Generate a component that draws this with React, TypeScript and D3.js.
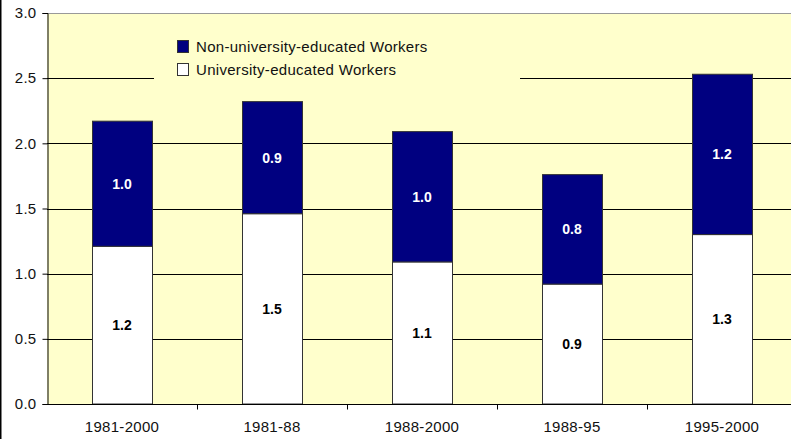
import { useEffect, useRef } from 'react';
import * as d3 from 'd3';

const periods = ['1981-2000', '1981-88', '1988-2000', '1988-95', '1995-2000'];
const universityEducated = [1.21, 1.46, 1.09, 0.92, 1.3];
const nonUniversityEducated = [0.96, 0.86, 1.0, 0.84, 1.23];
const yTicks = [0, 0.5, 1, 1.5, 2, 2.5, 3];
const seriesNames = ['Non-university-educated Workers', 'University-educated Workers'];

const W = 791;
const H = 439;

export default function App() {
  const ref = useRef<SVGSVGElement>(null);

  useEffect(() => {
    const svg = d3.select(ref.current);
    svg.selectAll('*').remove();

    const margin = { left: 47, top: 13, bottom: 404 };
    const x = d3.scaleBand().domain(periods).range([margin.left, margin.left + 750]);
    const y = d3.scaleLinear().domain([0, 3]).range([margin.bottom, margin.top]);
    const font = 'Arial, "Liberation Sans", sans-serif';
    const ls = '0.3px';

    // outer frame line on the left
    svg.append('line').attr('x1', 0.5).attr('x2', 0.5).attr('y1', 0).attr('y2', H)
      .attr('stroke', '#000').attr('stroke-width', 2);

    // plot area
    svg.append('rect')
      .attr('x', margin.left).attr('y', margin.top)
      .attr('width', 760).attr('height', margin.bottom - margin.top)
      .attr('fill', '#FFFFCC');
    svg.append('line').attr('x1', margin.left).attr('x2', W).attr('y1', margin.top + 0.5).attr('y2', margin.top + 0.5)
      .attr('stroke', '#999').attr('stroke-width', 1);

    // gridlines
    svg.append('g').selectAll('line').data(yTicks.filter(d => d > 0 && d < 3)).enter().append('line')
      .attr('x1', margin.left).attr('x2', W)
      .attr('y1', d => Math.round(y(d)) + 0.5).attr('y2', d => Math.round(y(d)) + 0.5)
      .attr('stroke', '#000').attr('stroke-width', 1);

    // legend box hides the grid behind it
    svg.append('rect').attr('x', 154).attr('y', 28).attr('width', 366).attr('height', 56).attr('fill', '#FFFFCC');
    const legend = svg.append('g');
    const legendColors = ['#000080', '#FFFFFF'];
    seriesNames.forEach((name, i) => {
      const ly = 40 + i * 23;
      legend.append('rect').attr('x', 177.5).attr('y', ly + 0.5).attr('width', 11).attr('height', 12)
        .attr('fill', legendColors[i]).attr('stroke', '#333').attr('stroke-width', 1);
      legend.append('text').attr('x', 196).attr('y', ly + 12)
        .attr('font-family', font).attr('font-size', 15).attr('letter-spacing', ls)
        .attr('fill', '#111').text(name);
    });

    // bars
    const bw = 60;
    const bars = svg.append('g');
    periods.forEach((p, i) => {
      const cx = (x(p) as number) + x.bandwidth() / 2;
      const u = universityEducated[i];
      const n = nonUniversityEducated[i];
      bars.append('rect')
        .attr('x', Math.round(cx - bw / 2) + 0.5).attr('y', y(u))
        .attr('width', bw).attr('height', y(0) - y(u))
        .attr('fill', '#fff').attr('stroke', '#333').attr('stroke-width', 1);
      bars.append('rect')
        .attr('x', Math.round(cx - bw / 2) + 0.5).attr('y', y(u + n))
        .attr('width', bw).attr('height', y(u) - y(u + n))
        .attr('fill', '#000080').attr('stroke', '#333').attr('stroke-width', 1);
      bars.append('text').attr('x', cx).attr('y', (y(0) + y(u)) / 2).attr('dy', '0.35em')
        .attr('text-anchor', 'middle').attr('font-family', font).attr('font-size', 14).attr('font-weight', 'bold')
        .attr('fill', '#000').text(u.toFixed(1));
      bars.append('text').attr('x', cx).attr('y', (y(u) + y(u + n)) / 2).attr('dy', '0.35em')
        .attr('text-anchor', 'middle').attr('font-family', font).attr('font-size', 14).attr('font-weight', 'bold')
        .attr('fill', '#fff').text(n.toFixed(1));
    });

    // y axis
    const yAxis = svg.append('g').attr('transform', `translate(${margin.left + 0.5},0)`)
      .call(d3.axisLeft(y).tickValues(yTicks).tickFormat(d3.format('.1f')).tickSize(5).tickPadding(6));
    yAxis.select('.domain').attr('stroke', '#000');
    yAxis.selectAll('line').attr('stroke', '#000');
    yAxis.selectAll('text').attr('font-family', font).attr('font-size', 15).attr('letter-spacing', ls).attr('fill', '#111');

    // x axis
    const xAxisG = svg.append('g').attr('transform', `translate(0,${margin.bottom + 0.5})`);
    xAxisG.append('line').attr('x1', margin.left).attr('x2', W).attr('stroke', '#000');
    xAxisG.selectAll('line.tick').data(periods).enter().append('line').attr('class', 'tick')
      .attr('x1', d => Math.round((x(d) as number) + x.bandwidth()) + 0.5)
      .attr('x2', d => Math.round((x(d) as number) + x.bandwidth()) + 0.5)
      .attr('y1', 0).attr('y2', 5).attr('stroke', '#000');
    xAxisG.selectAll('text').data(periods).enter().append('text')
      .attr('x', d => (x(d) as number) + x.bandwidth() / 2)
      .attr('y', 27)
      .attr('text-anchor', 'middle').attr('font-family', font).attr('font-size', 15).attr('letter-spacing', ls)
      .attr('fill', '#111')
      .text(d => d);
  }, []);

  return (
    <svg ref={ref} width={W} height={H} style={{ position: 'absolute', left: 0, top: 0, background: '#fff' }} />
  );
}
